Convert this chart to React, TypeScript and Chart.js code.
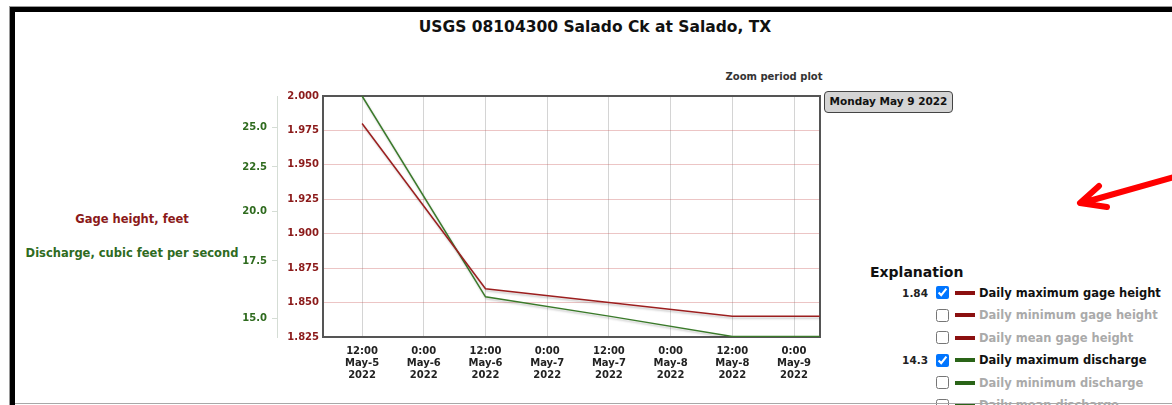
import React, { useEffect, useRef } from "react";
import { Chart, registerables } from "chart.js";

Chart.register(...registerables);

// ---- data ----
const xHours = [12, 36, 60, 84, 101]; // hours since May-5 0:00
const gageHeight = [1.98, 1.86, 1.85, 1.84, 1.84];
const discharge = [27.2, 15.9, 15.1, 14.3, 14.3];
const xTickHours = [12, 24, 36, 48, 60, 72, 84, 96];
const xTickLabels = [
  ["12:00", "May-5", "2022"],
  ["0:00", "May-6", "2022"],
  ["12:00", "May-6", "2022"],
  ["0:00", "May-7", "2022"],
  ["12:00", "May-7", "2022"],
  ["0:00", "May-8", "2022"],
  ["12:00", "May-8", "2022"],
  ["0:00", "May-9", "2022"],
];
const gageTicks = [1.825, 1.85, 1.875, 1.9, 1.925, 1.95, 1.975, 2.0];
const dischargeTicks = [15, 17.5, 20, 22.5, 25];
const legendLabels = [
  "Daily maximum gage height",
  "Daily minimum gage height",
  "Daily mean gage height",
  "Daily maximum discharge",
  "Daily minimum discharge",
  "Daily mean discharge",
];
const legendValues = ["1.84", "", "", "14.3", "", ""];
const legendChecked = [true, false, false, true, false, false];
const legendKinds = ["gage", "gage", "gage", "q", "q", "q"];

const RED = "#8b1a1a";
const RED_LINE = "#9c1f1f";
const GREEN = "#2f6b1f";
const GREEN_LINE = "#3a7a2a";
const FONT = "'DejaVu Sans', Verdana, sans-serif";

const framePlugin = {
  id: "frameBox",
  beforeDatasetsDraw(chart: any) {
    const { ctx, chartArea } = chart;
    ctx.save();
    ctx.strokeStyle = "#555";
    ctx.lineWidth = 2;
    ctx.strokeRect(chartArea.left, chartArea.top, chartArea.right - chartArea.left, chartArea.bottom - chartArea.top);
    ctx.restore();
  },
};

const shadowPlugin = {
  id: "lineShadow",
  beforeDatasetDraw(chart: any) {
    const ctx = chart.ctx;
    ctx.save();
    ctx.shadowColor = "rgba(0,0,0,0.22)";
    ctx.shadowBlur = 2;
    ctx.shadowOffsetX = 1;
    ctx.shadowOffsetY = 2;
  },
  afterDatasetDraw(chart: any) {
    chart.ctx.restore();
  },
};

function HydroChart() {
  const ref = useRef<HTMLCanvasElement | null>(null);
  useEffect(() => {
    if (!ref.current) return;
    const chart = new Chart(ref.current, {
      type: "line",
      data: {
        datasets: [
          {
            label: "Daily maximum gage height",
            data: xHours.map((x, i) => ({ x, y: gageHeight[i] })),
            borderColor: RED_LINE,
            borderWidth: 1.5,
            pointRadius: 0,
            yAxisID: "yGage",
            tension: 0,
          },
          {
            label: "Daily maximum discharge",
            data: xHours.map((x, i) => ({ x, y: discharge[i] })),
            borderColor: GREEN_LINE,
            borderWidth: 1.5,
            pointRadius: 0,
            yAxisID: "yQ",
            tension: 0,
          },
        ],
      },
      options: {
        animation: false,
        responsive: false,
        layout: { padding: { top: 8, right: 10, bottom: 0, left: 0 } },
        plugins: { legend: { display: false }, tooltip: { enabled: false }, title: { display: false } },
        scales: {
          x: {
            type: "linear",
            min: 4.4,
            max: 101.05,
            afterBuildTicks: (scale: any) => {
              scale.ticks = xTickHours.map((v) => ({ value: v }));
            },
            afterFit: (scale: any) => {
              scale.height = 58;
            },
            ticks: {
              autoSkip: false,
              maxRotation: 0,
              padding: 9,
              color: "#222",
              font: { family: FONT, size: 10, weight: "bold", lineHeight: 1.17 },
              callback: (v: any) => {
                const i = xTickHours.indexOf(Number(v));
                return i >= 0 ? xTickLabels[i] : "";
              },
            },
            grid: { color: "rgba(0,0,0,0.17)", drawTicks: false, lineWidth: 1 },
            border: { display: false },
          },
          yGage: {
            type: "linear",
            position: "left",
            weight: 0,
            min: 1.825,
            max: 2.0,
            afterBuildTicks: (scale: any) => {
              scale.ticks = gageTicks.map((v) => ({ value: v }));
            },
            afterFit: (scale: any) => {
              scale.width = 46;
            },
            ticks: {
              padding: 4,
              color: RED,
              font: { family: FONT, size: 10, weight: "bold" },
              callback: (v: any) => Number(v).toFixed(3),
            },
            grid: { color: "rgba(200,90,90,0.35)", drawTicks: false },
            border: { display: false },
          },
          yQ: {
            type: "logarithmic",
            position: "left",
            weight: 10,
            min: 14.28,
            max: 27.2,
            afterBuildTicks: (scale: any) => {
              scale.ticks = dischargeTicks.map((v) => ({ value: v }));
            },
            afterFit: (scale: any) => {
              scale.width = 37;
            },
            ticks: {
              padding: 5,
              color: GREEN,
              font: { family: FONT, size: 10, weight: "bold" },
              callback: (v: any) => Number(v).toFixed(1),
            },
            grid: { drawOnChartArea: false, drawTicks: true, tickLength: 5, color: "#d5ddd5" },
            border: { display: true, color: "#d5ddd5" },
          },
        },
      },
      plugins: [shadowPlugin, framePlugin],
    } as any);
    return () => chart.destroy();
  }, []);
  return <canvas ref={ref} width={590} height={310} style={{ position: "absolute", left: 240, top: 85 }} />;
}

export default function App() {
  const bold = { fontFamily: FONT, fontWeight: "bold" as const };
  return (
    <div style={{ position: "absolute", left: 0, top: 0, width: 1172, height: 405, overflow: "hidden", background: "#fff" }}>
      {/* frame */}
      <div style={{ position: "absolute", left: 9, top: 6, width: 1163, height: 1, background: "#9a9a9a" }} />
      <div style={{ position: "absolute", left: 9, top: 6, width: 1, height: 399, background: "#9a9a9a" }} />
      <div style={{ position: "absolute", left: 10, top: 7, width: 1162, height: 5, background: "#000" }} />
      <div style={{ position: "absolute", left: 10, top: 7, width: 5, height: 398, background: "#000" }} />

      {/* title */}
      <div style={{ ...bold, position: "absolute", left: 345, width: 500, top: 17, height: 20, lineHeight: "20px", textAlign: "center", fontSize: 15.5, color: "#111" }}>
        USGS 08104300 Salado Ck at Salado, TX
      </div>
      <div style={{ ...bold, position: "absolute", left: 714, width: 120, top: 70, height: 14, lineHeight: "14px", textAlign: "center", fontSize: 10, color: "#333" }}>
        Zoom period plot
      </div>

      {/* axis titles */}
      <div style={{ ...bold, position: "absolute", left: 16, width: 232, top: 211, height: 16, lineHeight: "16px", textAlign: "center", fontSize: 11.5, color: RED }}>
        Gage height, feet
      </div>
      <div style={{ ...bold, position: "absolute", left: 16, width: 232, top: 245, height: 16, lineHeight: "16px", textAlign: "center", fontSize: 11.5, color: GREEN }}>
        Discharge, cubic feet per second
      </div>

      <HydroChart />

      {/* date badge */}
      <div
        style={{
          ...bold,
          position: "absolute",
          left: 824,
          top: 91,
          width: 129,
          height: 22,
          boxSizing: "border-box",
          border: "1.5px solid #444",
          borderRadius: 4,
          background: "#d4d4d4",
          textAlign: "center",
          lineHeight: "19px",
          fontSize: 10.5,
          color: "#111",
        }}
      >
        Monday May 9 2022
      </div>

      {/* legend */}
      <div style={{ ...bold, position: "absolute", left: 870, top: 262, height: 20, lineHeight: "20px", fontSize: 14, color: "#111" }}>
        Explanation
      </div>
      {legendLabels.map((label, i) => {
        const cy = 292.7 + i * 22.5;
        const col = legendKinds[i] === "gage" ? "#8b1010" : "#2a6418";
        return (
          <div
            key={label}
            style={{ ...bold, position: "absolute", left: 880, top: cy - 10, height: 20, display: "flex", alignItems: "center", whiteSpace: "nowrap" }}
          >
            <span style={{ width: 48, textAlign: "right", fontSize: 10.5, color: "#222" }}>{legendValues[i]}</span>
            <input type="checkbox" checked={legendChecked[i]} readOnly style={{ margin: "0 0 0 8px", width: 13, height: 13 }} />
            <span style={{ display: "inline-block", width: 20, height: 4, background: col, marginLeft: 6 }} />
            <span style={{ marginLeft: 4, fontSize: 11.5, color: legendChecked[i] ? "#111" : "#aaa" }}>{label}</span>
          </div>
        );
      })}

      {/* bottom rule */}
      <div style={{ position: "absolute", left: 15, top: 403, width: 1157, height: 1, background: "#a8a8a8" }} />

      {/* red arrow */}
      <svg style={{ position: "absolute", left: 1060, top: 160 }} width={112} height={60}>
        <path d="M 114 17 L 22 43 M 39 26 L 20 43 L 47 47" stroke="#ff0000" strokeWidth={6} fill="none" strokeLinecap="round" strokeLinejoin="round" />
      </svg>
    </div>
  );
}
